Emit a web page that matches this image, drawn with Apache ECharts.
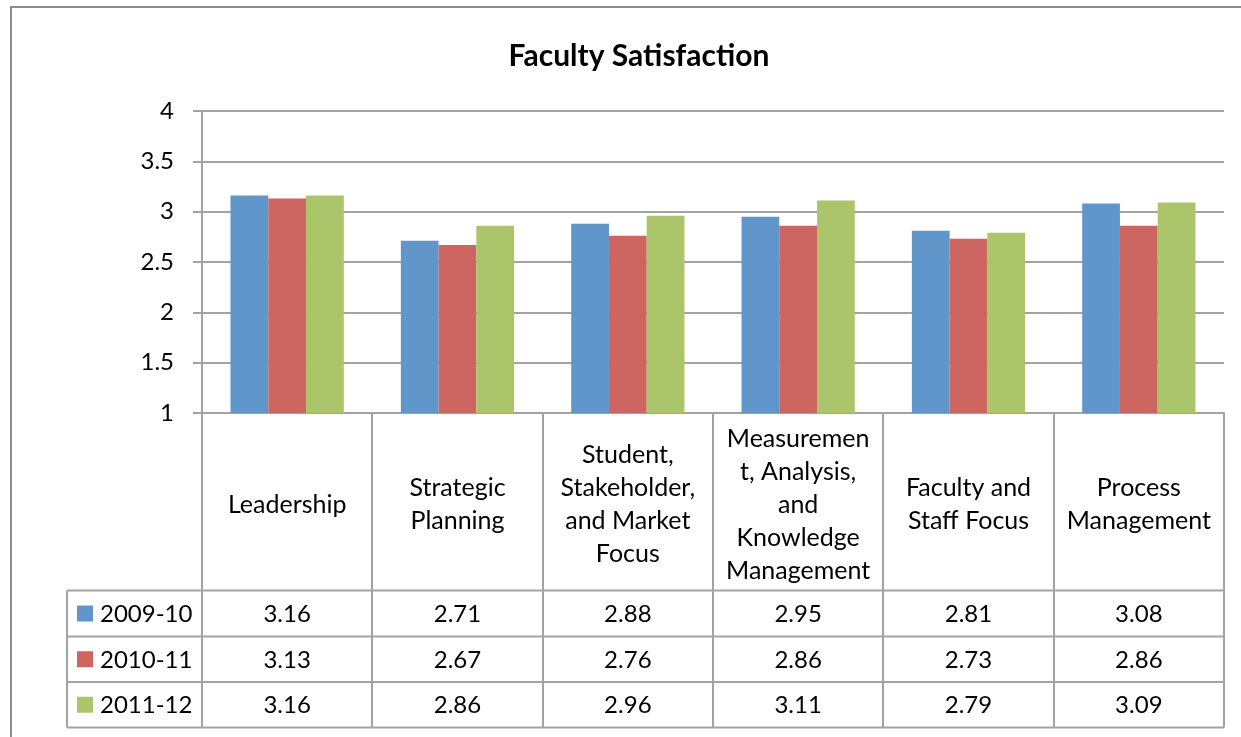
<!DOCTYPE html>
<html>
<head>
<meta charset="utf-8">
<script src="https://cdn.jsdelivr.net/npm/echarts@6/dist/echarts.min.js"></script>
<style>
html,body{margin:0;padding:0;background:#fff;}
#c{width:1241px;height:737px;}
</style>
</head>
<body>
<div id="c"></div>
<script>
const title = 'Faculty Satisfaction';
const categories = ['Leadership', 'Strategic Planning', 'Student, Stakeholder, and Market Focus', 'Measurement, Analysis, and Knowledge Management', 'Faculty and Staff Focus', 'Process Management'];
const categoryLabelLines = [
  ['Leadership'],
  ['Strategic', 'Planning'],
  ['Student,', 'Stakeholder,', 'and Market', 'Focus'],
  ['Measuremen', 't, Analysis,', 'and', 'Knowledge', 'Management'],
  ['Faculty and', 'Staff Focus'],
  ['Process', 'Management']
];
const seriesNames = ['2009-10', '2010-11', '2011-12'];
const values2009 = [3.16, 2.71, 2.88, 2.95, 2.81, 3.08];
const values2010 = [3.13, 2.67, 2.76, 2.86, 2.73, 2.86];
const values2011 = [3.16, 2.86, 2.96, 3.11, 2.79, 3.09];
const colors = ['#6096CA', '#CD6661', '#ABC56B'];

const FONT = 'Lato, "Open Sans", sans-serif';
const GL = 202, GR = 1224, GT = 111, GB = 413;
const ROWS = [590.5, 636.5, 682, 727.5];
const TABLE_LEFT = 67;
const LINE = '#a3a3a3';

const chart = echarts.init(document.getElementById('c'));
const allValues = [values2009, values2010, values2011];

chart.setOption({
  animation: false,
  title: {
    text: title, left: 634, top: 36, textAlign: 'center',
    textStyle: {fontFamily: FONT, fontWeight: 'bold', fontSize: 30, color: '#000'}
  },
  grid: {left: GL, right: 1241 - GR, top: GT, height: GB - GT, containLabel: false},
  xAxis: {
    type: 'category', data: categories,
    axisLine: {show: true, lineStyle: {color: LINE, width: 2}},
    axisTick: {show: false},
    axisLabel: {show: false}
  },
  yAxis: {
    type: 'value', min: 1, max: 4, interval: 0.5,
    axisLine: {show: true, lineStyle: {color: LINE, width: 2}},
    axisTick: {show: true, length: 9, lineStyle: {color: LINE, width: 2}},
    axisLabel: {margin: 28, fontFamily: FONT, fontSize: 24, color: '#000'},
    splitLine: {show: true, lineStyle: {color: LINE, width: 2}}
  },
  series: seriesNames.map((n, i) => ({
    name: n, type: 'bar', data: allValues[i],
    barGap: '0%', barCategoryGap: '33.5%',
    itemStyle: {color: colors[i]}
  }))
});

// Build data table from data through the axis scale
const n = categories.length;
const band = (GR - GL) / n;
const centers = categories.map((c, i) => chart.convertToPixel({xAxisIndex: 0}, i));
const g = [];
// outer chart border
g.push({type: 'polyline', shape: {points: [[11, 737], [11, 7], [1241, 7]]}, style: {stroke: '#8c8c8c', lineWidth: 2, fill: null}, z: 10});
// vertical lines of table (category boundaries)
for (let i = 0; i <= n; i++) {
  const x = Math.round(centers[0] - band / 2 + i * band);
  g.push({type: 'line', shape: {x1: x, y1: GB, x2: x, y2: ROWS[3]}, style: {stroke: LINE, lineWidth: 2}, z: 10});
}
// left column vertical
g.push({type: 'line', shape: {x1: TABLE_LEFT, y1: ROWS[0], x2: TABLE_LEFT, y2: ROWS[3]}, style: {stroke: LINE, lineWidth: 2}, z: 10});
// horizontal row lines
ROWS.forEach(y => g.push({type: 'line', shape: {x1: TABLE_LEFT, y1: y, x2: GR, y2: y}, style: {stroke: LINE, lineWidth: 2}, z: 10}));
// category headers
categoryLabelLines.forEach((lines, i) => {
  g.push({type: 'text', x: centers[i], y: (GB + ROWS[0]) / 2 + 3, z: 11,
    style: {text: lines.join('\n'), fontFamily: FONT, fontSize: 25, lineHeight: 33, fill: '#000', align: 'center', verticalAlign: 'middle'}});
});
// series rows
seriesNames.forEach((name, r) => {
  const cy = (ROWS[r] + ROWS[r + 1]) / 2;
  g.push({type: 'rect', shape: {x: 77, y: cy - 8, width: 16, height: 16}, style: {fill: colors[r]}, z: 11});
  g.push({type: 'text', x: 100, y: cy + 1, z: 11, style: {text: name, fontFamily: FONT, fontSize: 24, fill: '#000', align: 'left', verticalAlign: 'middle'}});
  allValues[r].forEach((v, i) => {
    g.push({type: 'text', x: centers[i], y: cy + 1, z: 11, style: {text: v.toFixed(2), fontFamily: FONT, fontSize: 24, fill: '#000', align: 'center', verticalAlign: 'middle'}});
  });
});
chart.setOption({graphic: g});
</script>
</body>
</html>
